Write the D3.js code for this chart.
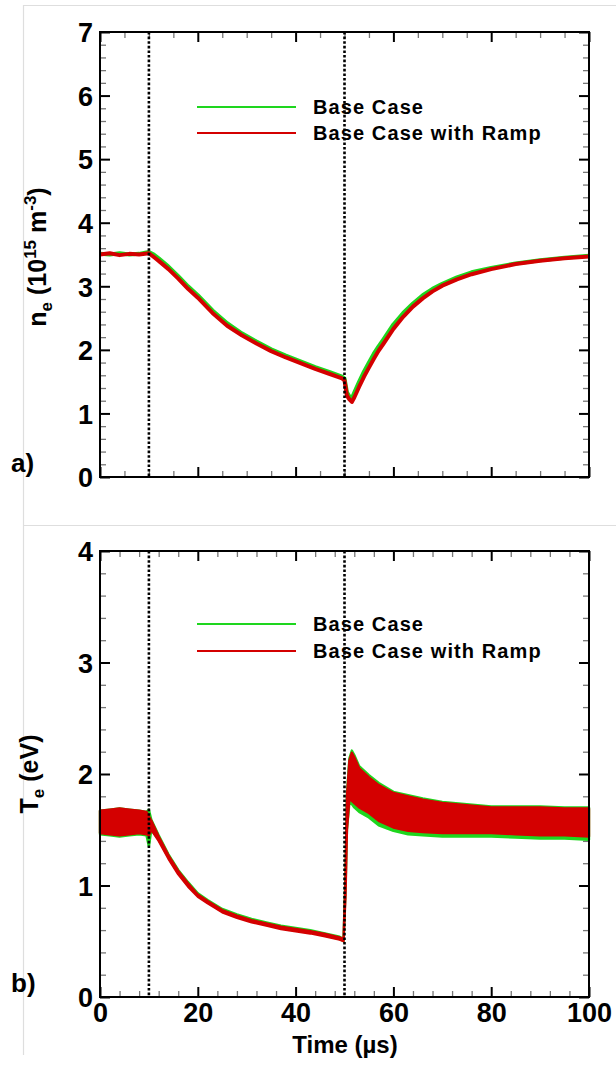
<!DOCTYPE html>
<html>
<head>
<meta charset="utf-8">
<script src="https://cdn.jsdelivr.net/npm/d3@7"></script>
<style>
  body { margin: 0; background: #fff; }
  svg { display: block; font-family: "Liberation Sans", Arial, sans-serif; font-weight: bold; }
</style>
</head>
<body>
<script>
// ---- data ----
const xTicks = [0, 20, 40, 60, 80, 100];
const neTicks = [0, 1, 2, 3, 4, 5, 6, 7];
const teTicks = [0, 1, 2, 3, 4];
const markerTimes = [10, 50];
const seriesNames = ["Base Case", "Base Case with Ramp"];
const seriesColors = ["#1ed61e", "#d40000"];

// electron density (1e15 m^-3)
const neTime = [0, 2, 4, 6, 8, 10, 11, 12, 14, 16, 18, 20, 23, 26, 29, 32, 35, 38, 41, 44, 47, 49.5, 50, 50.5, 51, 51.5, 52, 53, 54, 55, 56, 57, 58, 60, 62, 64, 66, 68, 70, 73, 76, 80, 85, 90, 95, 100];
const neBase = [3.51, 3.50, 3.52, 3.50, 3.51, 3.54, 3.50, 3.44, 3.31, 3.16, 3.00, 2.86, 2.62, 2.42, 2.26, 2.13, 2.01, 1.91, 1.82, 1.73, 1.65, 1.58, 1.55, 1.33, 1.27, 1.24, 1.33, 1.50, 1.66, 1.80, 1.94, 2.06, 2.17, 2.40, 2.58, 2.73, 2.86, 2.96, 3.04, 3.14, 3.22, 3.29, 3.36, 3.41, 3.45, 3.48];
const neRamp = [3.50, 3.52, 3.49, 3.51, 3.50, 3.52, 3.46, 3.40, 3.27, 3.12, 2.96, 2.82, 2.58, 2.38, 2.23, 2.10, 1.98, 1.88, 1.79, 1.70, 1.62, 1.55, 1.52, 1.28, 1.22, 1.18, 1.25, 1.42, 1.58, 1.72, 1.86, 1.99, 2.10, 2.33, 2.52, 2.68, 2.81, 2.92, 3.01, 3.11, 3.19, 3.27, 3.35, 3.40, 3.44, 3.47];

// electron temperature (eV): low / high edge of the noisy trace
const teTime = [0, 2, 4, 6, 8, 9.5, 10, 10.5, 12, 14, 16, 18, 20, 22, 25, 28, 31, 34, 37, 40, 43, 46, 49, 49.8, 50.2, 50.5, 51, 51.5, 52, 53, 55, 57, 60, 63, 66, 70, 75, 80, 85, 90, 95, 100];
const teBaseLo = [1.46, 1.45, 1.44, 1.45, 1.46, 1.45, 1.35, 1.50, 1.41, 1.25, 1.11, 1.00, 0.91, 0.85, 0.77, 0.72, 0.68, 0.65, 0.62, 0.60, 0.58, 0.55, 0.52, 0.50, 0.95, 1.50, 1.74, 1.73, 1.70, 1.66, 1.61, 1.54, 1.49, 1.46, 1.45, 1.44, 1.44, 1.44, 1.43, 1.42, 1.42, 1.41];
const teBaseHi = [1.67, 1.68, 1.69, 1.68, 1.67, 1.66, 1.68, 1.59, 1.45, 1.28, 1.14, 1.03, 0.93, 0.87, 0.79, 0.74, 0.70, 0.67, 0.64, 0.62, 0.60, 0.57, 0.54, 0.52, 1.10, 1.82, 2.14, 2.21, 2.17, 2.07, 1.99, 1.92, 1.84, 1.81, 1.78, 1.75, 1.73, 1.71, 1.71, 1.71, 1.70, 1.70];
const teRampLo = [1.47, 1.46, 1.45, 1.46, 1.47, 1.46, 1.45, 1.50, 1.40, 1.24, 1.10, 0.99, 0.90, 0.84, 0.76, 0.71, 0.67, 0.64, 0.61, 0.59, 0.57, 0.545, 0.515, 0.50, 0.90, 1.50, 1.78, 1.76, 1.74, 1.70, 1.65, 1.58, 1.52, 1.49, 1.48, 1.47, 1.47, 1.47, 1.46, 1.45, 1.45, 1.44];
const teRampHi = [1.67, 1.68, 1.69, 1.68, 1.67, 1.66, 1.62, 1.58, 1.44, 1.27, 1.13, 1.02, 0.92, 0.86, 0.78, 0.73, 0.69, 0.66, 0.63, 0.61, 0.59, 0.565, 0.535, 0.52, 1.05, 1.80, 2.12, 2.19, 2.15, 2.05, 1.97, 1.90, 1.83, 1.80, 1.77, 1.74, 1.72, 1.70, 1.70, 1.70, 1.69, 1.69];

const W = 616, H = 1068;
const svg = d3.select("body").append("svg").attr("width", W).attr("height", H);

// light frame lines of the original figure
const frame = svg.append("g").attr("stroke", "#dedede").attr("stroke-width", 1.2);
frame.append("line").attr("x1", 23).attr("x2", W).attr("y1", 5.5).attr("y2", 5.5);
frame.append("line").attr("x1", 23).attr("x2", W).attr("y1", 525.5).attr("y2", 525.5);
frame.append("line").attr("x1", 23.5).attr("x2", 23.5).attr("y1", 5).attr("y2", 1055);

function drawPanel(p) {
    const x = d3.scaleLinear().domain([0, 100]).range([100, 589]);
    const y = d3.scaleLinear().domain(p.yDomain).range([p.bottom, p.top]);
    const g = svg.append("g");

    // minor ticks (all four sides, inward)
    const minorX = d3.range(0, 100.01, p.xMinor).filter(v => xTicks.indexOf(v) < 0);
    const minorY = d3.range(p.yDomain[0], p.yDomain[1] + 0.001, 0.2).filter(v => Math.abs(v - Math.round(v)) > 0.01);
    const minorAxes = [
        [d3.axisBottom(x).tickValues(minorX), `translate(0,${p.bottom})`],
        [d3.axisTop(x).tickValues(minorX), `translate(0,${p.top})`],
        [d3.axisLeft(y).tickValues(minorY), `translate(100,0)`],
        [d3.axisRight(y).tickValues(minorY), `translate(589,0)`]
    ];
    minorAxes.forEach(([ax, tr]) => {
        const a = g.append("g").attr("transform", tr)
            .call(ax.tickSize(-6).tickFormat(""));
        a.select(".domain").remove();
        a.selectAll("line").attr("stroke", "#777").attr("stroke-width", 1.3);
    });

    // series
    p.draw(g, x, y);

    // dotted markers
    g.selectAll(".marker").data(markerTimes).join("line")
        .attr("x1", d => x(d)).attr("x2", d => x(d))
        .attr("y1", p.top).attr("y2", p.bottom)
        .attr("stroke", "#000").attr("stroke-width", 2.6)
        .attr("stroke-dasharray", "2.6,2");

    // major axes
    const fmt = d3.format("d");
    const bottomAx = g.append("g").attr("transform", `translate(0,${p.bottom})`)
        .call(d3.axisBottom(x).tickValues(xTicks).tickSize(-10).tickPadding(6)
            .tickFormat(p.xLabels ? fmt : ""));
    const topAx = g.append("g").attr("transform", `translate(0,${p.top})`)
        .call(d3.axisTop(x).tickValues(xTicks).tickSize(-10).tickFormat(""));
    const leftAx = g.append("g").attr("transform", "translate(100,0)")
        .call(d3.axisLeft(y).tickValues(p.yTicks).tickSize(-10).tickPadding(7).tickFormat(fmt));
    const rightAx = g.append("g").attr("transform", "translate(589,0)")
        .call(d3.axisRight(y).tickValues(p.yTicks).tickSize(-10).tickFormat(""));
    [bottomAx, topAx, leftAx, rightAx].forEach(a => {
        a.select(".domain").remove();
        a.selectAll("line").attr("stroke", "#000").attr("stroke-width", 2);
        a.selectAll("text").attr("fill", "#000")
            .style("font-size", "27px").style("font-weight", "bold")
            .style("font-family", "'Liberation Sans', Arial, sans-serif");
    });
    leftAx.selectAll("text").attr("dy", "0.36em");

    g.append("rect").attr("x", 100).attr("y", p.top)
        .attr("width", 489).attr("height", p.bottom - p.top)
        .attr("fill", "none").attr("stroke", "#000").attr("stroke-width", 2);

    // legend
    const lg = g.append("g");
    seriesNames.forEach((name, i) => {
        const ly = p.legendY + i * p.legendGap;
        lg.append("line").attr("x1", 197).attr("x2", 296)
            .attr("y1", ly).attr("y2", ly)
            .attr("stroke", seriesColors[i]).attr("stroke-width", 2.2);
        lg.append("text").attr("x", 313).attr("y", ly + 7)
            .attr("font-size", 20).attr("letter-spacing", 1.1)
            .text(name);
    });

    // panel letter
    g.append("text").attr("x", 11).attr("y", p.bottom - 5)
        .attr("font-size", 26).text(p.letter);
}

// top panel: n_e
drawPanel({
    top: 32, bottom: 477, yDomain: [0, 7], yTicks: neTicks, xMinor: 5, xLabels: false,
    legendY: 107, legendGap: 26, letter: "a)",
    draw: (g, x, y) => {
        const line = d3.line().x(d => x(d[0])).y(d => y(d[1]));
        [neBase, neRamp].forEach((vals, i) => {
            g.append("path")
                .datum(neTime.map((t, k) => [t, vals[k]]))
                .attr("d", line).attr("fill", "none")
                .attr("stroke", seriesColors[i]).attr("stroke-width", 4)
                .attr("stroke-linejoin", "round");
        });
    }
});

// bottom panel: T_e
drawPanel({
    top: 551, bottom: 997, yDomain: [0, 4], yTicks: teTicks, xMinor: 4, xLabels: true,
    legendY: 624, legendGap: 27, letter: "b)",
    draw: (g, x, y) => {
        const bands = [[teBaseLo, teBaseHi], [teRampLo, teRampHi]];
        bands.forEach(([lo, hi], i) => {
            const rows = teTime.map((t, k) => ({ t: t, lo: lo[k], hi: hi[k] }));
            g.append("path").datum(rows)
                .attr("d", d3.area().x(d => x(d.t)).y0(d => y(d.lo)).y1(d => y(d.hi)))
                .attr("fill", seriesColors[i]).attr("stroke", seriesColors[i])
                .attr("stroke-width", 2.4).attr("stroke-linejoin", "round");
        });
    }
});

// axis titles
const yt1 = svg.append("text").attr("transform", "translate(46,257) rotate(-90)")
    .attr("text-anchor", "middle").attr("font-size", 25);
yt1.append("tspan").text("n");
yt1.append("tspan").attr("font-size", 17).attr("dy", 6).text("e");
yt1.append("tspan").attr("dy", -6).text(" (10");
yt1.append("tspan").attr("font-size", 17).attr("dy", -10).text("15");
yt1.append("tspan").attr("dy", 10).text(" m");
yt1.append("tspan").attr("font-size", 17).attr("dy", -10).text("-3");
yt1.append("tspan").attr("dy", 10).text(")");

const yt2 = svg.append("text").attr("transform", "translate(38,774) rotate(-90)")
    .attr("text-anchor", "middle").attr("font-size", 25);
yt2.append("tspan").text("T");
yt2.append("tspan").attr("font-size", 17).attr("dy", 6).text("e");
yt2.append("tspan").attr("dy", -6).text(" (eV)");

svg.append("text").attr("x", 345).attr("y", 1053)
    .attr("text-anchor", "middle").attr("font-size", 24).text("Time (µs)");
</script>
</body>
</html>
